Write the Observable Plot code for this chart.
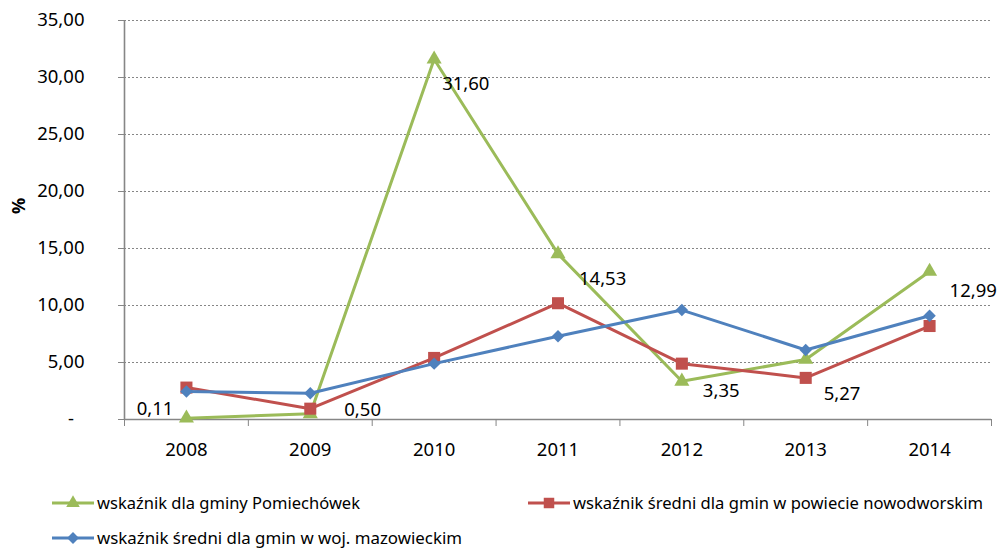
<!DOCTYPE html>
<html><head><meta charset="utf-8">
<script src="https://cdn.jsdelivr.net/npm/d3@7"></script>
<script src="https://cdn.jsdelivr.net/npm/@observablehq/plot@0.6"></script>
<style>
body{margin:0;background:#fff;font-family:"Noto Sans",sans-serif}
#chart svg{display:block}
</style>
</head><body><div id="chart"></div>
<script>
// ---- data ----
const years = [2008, 2009, 2010, 2011, 2012, 2013, 2014];
const gmina = [0.11, 0.50, 31.60, 14.53, 3.35, 5.27, 12.99];
const powiat = [2.8, 0.95, 5.4, 10.2, 4.9, 3.65, 8.2];
const wojewodztwo = [2.45, 2.3, 4.9, 7.3, 9.6, 6.1, 9.1];
const seriesNames = [
  "wskaźnik dla gminy Pomiechówek",
  "wskaźnik średni dla gmin w powiecie nowodworskim",
  "wskaźnik średni dla gmin w woj. mazowieckim"
];
const yTicks = [0, 5, 10, 15, 20, 25, 30, 35];
const yLabel = "%";

// ---- styling ----
const colors = ["#9BBB59", "#C0504D", "#4F81BD"];
const gray = "#868686";
const font = "Noto Sans, sans-serif";
const fmt = v => v === 0 ? "-\u2007" : v.toFixed(2).replace(".", ",");

const rows = (vals) => years.map((y, i) => ({year: y, value: vals[i]}));
const gData = rows(gmina), rData = rows(powiat), bData = rows(wojewodztwo);
const boundaries = d3.range(years[0] - 0.5, years[years.length - 1] + 1, 1);

// label placement (pixel offsets, like the original)
const labelPos = {
  2008: {dx: -13, dy: -9, anchor: "end"},
  2009: {dx: 34, dy: -4, anchor: "start"},
  2010: {dx: 8, dy: 25, anchor: "start"},
  2011: {dx: 21, dy: 25, anchor: "start"},
  2012: {dx: 21, dy: 10, anchor: "start"},
  2013: {dx: 18, dy: 35, anchor: "start"},
  2014: {dx: 20, dy: 20, anchor: "start"}
};

const plot = Plot.plot({
  width: 998,
  height: 470,
  marginTop: 20,
  marginBottom: 51,
  marginLeft: 124,
  marginRight: 7,
  style: {fontFamily: font, fontSize: "18.5px", color: "#000", background: "#fff"},
  x: {type: "linear", domain: [years[0] - 0.5, years[years.length - 1] + 0.5], axis: null},
  y: {domain: [0, 35], axis: null},
  marks: [
    Plot.ruleY(yTicks.filter(d => d > 0), {stroke: gray, strokeWidth: 1, strokeDasharray: "2,2"}),
    Plot.ruleX([boundaries[0]], {stroke: gray, strokeWidth: 1.6}),
    Plot.ruleY([0], {stroke: gray, strokeWidth: 1.6}),
    Plot.axisY({ticks: yTicks, tickSize: 6, tickPadding: 34, stroke: gray, tickFormat: fmt, label: null, fontSize: 18.5}),
    Plot.axisX({ticks: boundaries, tickSize: 7, stroke: gray, tickFormat: () => "", label: null}),
    Plot.axisX({ticks: years, tickSize: 0, tickPadding: 23, tickFormat: d => String(d), label: null, fontSize: 18.5}),
    Plot.text([yLabel], {frameAnchor: "left", dx: -105.5, dy: -6, rotate: -90, fontWeight: "bold", fontSize: 18}),
    Plot.line(gData, {x: "year", y: "value", stroke: colors[0], strokeWidth: 3}),
    Plot.dot(gData, {x: "year", y: "value", symbol: "triangle", r: 5.6, fill: colors[0], stroke: null}),
    Plot.line(rData, {x: "year", y: "value", stroke: colors[1], strokeWidth: 3}),
    Plot.dot(rData, {x: "year", y: "value", symbol: "square", r: 6.8, fill: colors[1], stroke: null}),
    Plot.line(bData, {x: "year", y: "value", stroke: colors[2], strokeWidth: 3}),
    Plot.dot(bData, {x: "year", y: "value", symbol: d3.symbolDiamond2, r: 5.6, fill: colors[2], stroke: null}),
    ...gData.map(d => Plot.text([d], {
      x: "year", y: "value", text: v => fmt(v.value),
      dx: labelPos[d.year].dx, dy: labelPos[d.year].dy, textAnchor: labelPos[d.year].anchor,
      fill: "#000", fontSize: 18.5
    }))
  ]
});
document.getElementById("chart").appendChild(plot);

// ---- legend ----
const legendItems = [
  {name: seriesNames[0], color: colors[0], symbol: d3.symbolTriangle, size: 80, x: 52, y: 33, len: 263},
  {name: seriesNames[1], color: colors[1], symbol: d3.symbolSquare, size: 110, x: 528, y: 33, len: 410},
  {name: seriesNames[2], color: colors[2], symbol: d3.symbolDiamond2, size: 90, x: 52, y: 68, len: 365}
];
const leg = d3.select("#chart").append("svg")
  .attr("width", 998).attr("height", 79)
  .style("font-family", font);
const g = leg.selectAll("g").data(legendItems).join("g")
  .attr("transform", d => `translate(${d.x},${d.y})`);
g.append("line").attr("x1", 0).attr("x2", 42).attr("y1", 0).attr("y2", 0)
  .attr("stroke", d => d.color).attr("stroke-width", 3);
g.append("path").attr("transform", "translate(21,0)")
  .attr("d", d => d3.symbol(d.symbol, d.size)()).attr("fill", d => d.color);
g.append("text").attr("x", 45).attr("y", 0).attr("dy", "0.35em")
  .attr("font-size", 16.5).attr("fill", "#000")
  .attr("textLength", d => d.len).attr("lengthAdjust", "spacingAndGlyphs")
  .text(d => d.name);
</script>
</body></html>
